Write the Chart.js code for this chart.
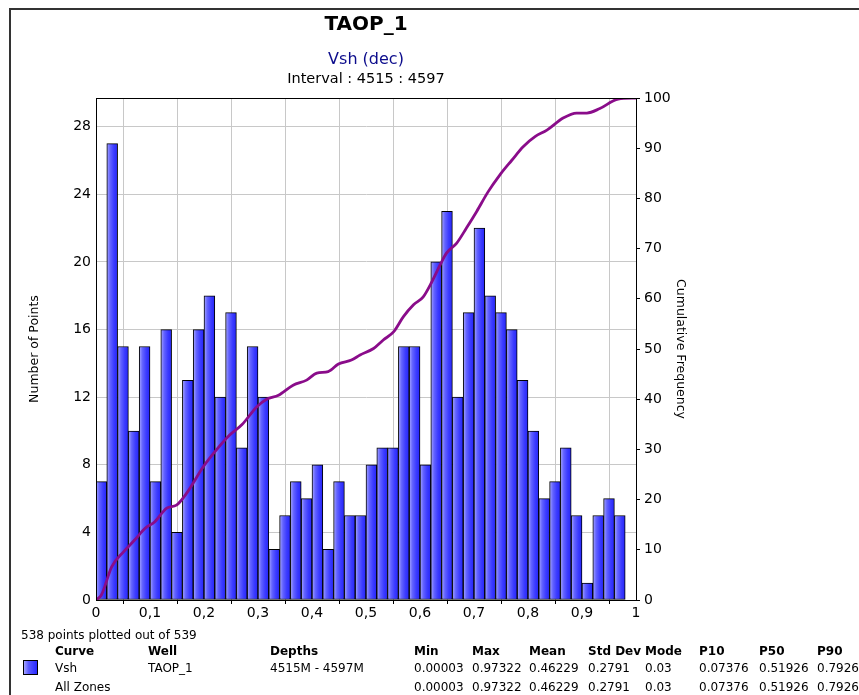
<!DOCTYPE html>
<html>
<head>
<meta charset="utf-8">
<title>TAOP_1 Vsh histogram</title>
<script src="https://cdn.jsdelivr.net/npm/chart.js@4/dist/chart.umd.min.js"></script>
<style>
  html, body { margin: 0; padding: 0; background: #fff; }
  body { width: 859px; height: 695px; overflow: hidden; position: relative; font-family: "DejaVu Sans", Verdana, sans-serif; color: #000; }
  #frame { position: absolute; left: 9px; top: 8px; right: -4px; bottom: -4px; border-top: 2px solid #333; border-left: 2px solid #333; }
  #wrap { position: absolute; left: 0; top: 0; width: 859px; height: 695px; }
  .ttl { position: absolute; left: 96px; width: 540px; text-align: center; white-space: nowrap; }
  #t1 { top: 11px; font-size: 20px; font-weight: bold; }
  #t2 { top: 49px; font-size: 16px; color: #0c0c8c; }
  #t3 { top: 70px; font-size: 14.5px; }
  .cell { position: absolute; font-size: 12px; white-space: nowrap; line-height: 14px; }
  .hd { font-weight: bold; }
  #swatch { position: absolute; left: 23px; top: 660px; width: 13px; height: 13px; border: 1px solid #000;
            background: linear-gradient(to right, #a4a4ff, #5c5cff 35%, #2828ff); }
</style>
</head>
<body>
<div id="frame"></div>
<div id="wrap"><canvas id="c" width="859" height="695"></canvas></div>
<div class="ttl" id="t1">TAOP_1</div>
<div class="ttl" id="t2">Vsh (dec)</div>
<div class="ttl" id="t3">Interval : 4515 : 4597</div>
<div id="table"></div>
<div id="swatch"></div>
<script>
// Histogram bins of Vsh (width 0.02)
const binWidth = 0.02;
const binCenters = [0.01, 0.03, 0.05, 0.07, 0.09, 0.11, 0.13, 0.15, 0.17, 0.19,
                    0.21, 0.23, 0.25, 0.27, 0.29, 0.31, 0.33, 0.35, 0.37, 0.39,
                    0.41, 0.43, 0.45, 0.47, 0.49, 0.51, 0.53, 0.55, 0.57, 0.59,
                    0.61, 0.63, 0.65, 0.67, 0.69, 0.71, 0.73, 0.75, 0.77, 0.79,
                    0.81, 0.83, 0.85, 0.87, 0.89, 0.91, 0.93, 0.95, 0.97];
const counts = [7, 27, 15, 10, 15, 7, 16, 4, 13, 16,
                18, 12, 17, 9, 15, 12, 3, 5, 7, 6,
                8, 3, 7, 5, 5, 8, 9, 9, 15, 15,
                8, 20, 23, 12, 17, 22, 18, 17, 16, 13,
                10, 6, 7, 9, 5, 1, 5, 6, 5];

// Cumulative frequency curve (percent)
const cumX = [0, 0.01, 0.029, 0.051, 0.072, 0.091, 0.109, 0.131, 0.149, 0.168,
              0.199, 0.223, 0.248, 0.270, 0.298, 0.316, 0.338, 0.365, 0.390, 0.409,
              0.430, 0.449, 0.473, 0.489, 0.514, 0.532, 0.551, 0.569, 0.588, 0.606,
              0.622, 0.637, 0.649, 0.668, 0.686, 0.705, 0.726, 0.748, 0.770, 0.791,
              0.813, 0.835, 0.865, 0.890, 0.909, 0.933, 0.967, 1.0];
const cumPct = [0, 1, 6.6, 9.6, 12, 14.3, 15.6, 18.3, 18.9, 21.3,
                26.6, 29.9, 32.9, 34.9, 38.5, 40, 40.8, 42.8, 43.8, 45.2,
                45.5, 47, 47.8, 48.8, 50.1, 51.8, 53.4, 56.4, 58.8, 60.4,
                63.4, 66.7, 69.1, 71.1, 74.1, 77.4, 81.3, 84.7, 87.6, 90.3,
                92.3, 93.6, 96, 97, 97, 97.9, 99.8, 100];

const xTickLabels = ['0', '0,1', '0,2', '0,3', '0,4', '0,5', '0,6', '0,7', '0,8', '0,9', '1'];

// Statistics table
const plottedNote = '538 points plotted out of 539';
const statHeaders = ['Curve', 'Well', 'Depths', 'Min', 'Max', 'Mean', 'Std Dev', 'Mode', 'P10', 'P50', 'P90'];
const vshRow = ['Vsh', 'TAOP_1', '4515M - 4597M', '0.00003', '0.97322', '0.46229', '0.2791', '0.03', '0.07376', '0.51926', '0.79266'];
const allZonesRow = ['All Zones', '', '', '0.00003', '0.97322', '0.46229', '0.2791', '0.03', '0.07376', '0.51926', '0.79266'];

// table layout
const colLeft = [55, 148, 270, 414, 472, 529, 588, 645, 699, 759, 817];
const table = document.getElementById('table');
function addCell(text, x, y, cls) {
  const d = document.createElement('div');
  d.className = 'cell' + (cls ? ' ' + cls : '');
  d.style.left = x + 'px';
  d.style.top = y + 'px';
  d.textContent = text;
  table.appendChild(d);
}
addCell(plottedNote, 21, 628);
statHeaders.forEach((t, i) => addCell(t, colLeft[i], 644, 'hd'));
vshRow.forEach((t, i) => addCell(t, colLeft[i], 661));
allZonesRow.forEach((t, i) => addCell(t, colLeft[i], 680));

const FONT = "'DejaVu Sans', Verdana, sans-serif";

// horizontal light-to-dark blue shading across each bar
function barGradient(ctx) {
  const chart = ctx.chart;
  const xs = chart.scales && chart.scales.x;
  if (ctx.type !== 'data' || !xs || !xs.width) return '#4040ff';
  const c = binCenters[ctx.dataIndex];
  const lo = xs.getPixelForValue(c - binWidth / 2);
  const hi = xs.getPixelForValue(c + binWidth / 2);
  const g = chart.ctx.createLinearGradient(lo, 0, hi, 0);
  g.addColorStop(0, '#a8a8ff');
  g.addColorStop(0.3, '#6464ff');
  g.addColorStop(0.65, '#3c3cff');
  g.addColorStop(1, '#2424f8');
  return g;
}

const plotFrame = {
  id: 'plotFrame',
  afterDatasetsDraw(chart) {
    const a = chart.chartArea, ctx = chart.ctx;
    ctx.save();
    ctx.strokeStyle = '#000';
    ctx.lineWidth = 1;
    ctx.strokeRect(Math.round(a.left) + 0.5, Math.round(a.top) + 0.5,
                   Math.round(a.right - a.left), Math.round(a.bottom - a.top));
    ctx.restore();
  }
};

new Chart(document.getElementById('c'), {
  type: 'bar',
  data: {
    datasets: [
      {
        type: 'line',
        label: 'Cumulative Frequency',
        data: cumX.map((x, i) => ({ x: x, y: cumPct[i] })),
        yAxisID: 'y2',
        borderColor: '#8a0c8a',
        borderWidth: 2.8,
        pointRadius: 0,
        cubicInterpolationMode: 'monotone',
        fill: false,
        order: 0
      },
      {
        label: 'Vsh',
        data: binCenters.map((x, i) => ({ x: x, y: counts[i] })),
        yAxisID: 'y',
        backgroundColor: barGradient,
        borderColor: '#000',
        borderWidth: 1,
        borderSkipped: false,
        barPercentage: 1,
        categoryPercentage: 1,
        grouped: false,
        order: 1
      }
    ]
  },
  options: {
    responsive: false,
    animation: false,
    events: [],
    layout: { padding: { left: 23, right: 167, top: 98, bottom: 65 } },
    plugins: { legend: { display: false }, tooltip: { enabled: false }, title: { display: false } },
    scales: {
      x: {
        type: 'linear',
        min: 0,
        max: 1,
        offset: false,
        afterFit(s) { s.height = 30; },
        afterBuildTicks(s) { s.ticks = xTickLabels.map((_, i) => ({ value: i / 10 })); },
        ticks: {
          color: '#000',
          font: { family: FONT, size: 14 },
          padding: 1,
          maxRotation: 0,
          autoSkip: false,
          callback: (v, i) => xTickLabels[i]
        },
        grid: { color: '#c8c8c8', lineWidth: 1, tickColor: '#000', tickLength: 4 },
        border: { color: '#000', width: 1 }
      },
      y: {
        position: 'left',
        min: 0,
        max: 29.7,
        afterFit(s) { s.width = 73; },
        afterBuildTicks(s) { s.ticks = [0, 4, 8, 12, 16, 20, 24, 28].map(v => ({ value: v })); },
        ticks: { color: '#000', font: { family: FONT, size: 14 }, padding: 5 },
        grid: { color: '#c8c8c8', lineWidth: 1, drawTicks: false },
        border: { color: '#000', width: 1 },
        title: { display: true, text: 'Number of Points', color: '#000', font: { family: FONT, size: 12.5 }, padding: 4 }
      },
      y2: {
        position: 'right',
        min: 0,
        max: 100,
        afterFit(s) { s.width = 56; },
        ticks: { stepSize: 10, color: '#000', font: { family: FONT, size: 14 }, padding: 4 },
        grid: { drawOnChartArea: false, tickColor: '#000', tickLength: 4 },
        border: { color: '#000', width: 1 },
        title: { display: true, text: 'Cumulative Frequency', color: '#000', font: { family: FONT, size: 12.5 }, padding: 4 }
      }
    }
  },
  plugins: [plotFrame]
});
</script>
</body>
</html>
